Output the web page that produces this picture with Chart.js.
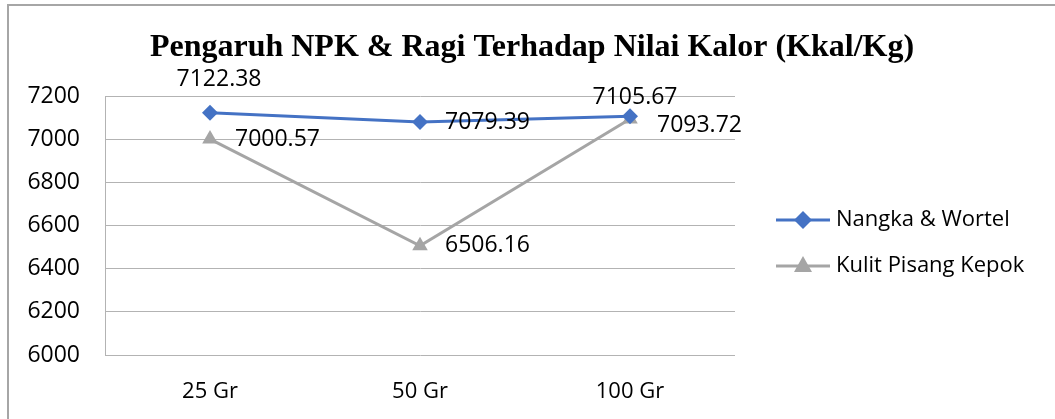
<!DOCTYPE html>
<html>
<head>
<meta charset="utf-8">
<script src="https://cdn.jsdelivr.net/npm/chart.js@4.4.0/dist/chart.umd.min.js"></script>
<style>
  html, body { margin: 0; padding: 0; background: #fff; }
</style>
</head>
<body>
<canvas id="chart" width="1055" height="419"></canvas>
<script>
const categories = ['25 Gr', '50 Gr', '100 Gr'];
const nangkaWortel = [7122.38, 7079.39, 7105.67];
const kulitPisang = [7000.57, 6506.16, 7093.72];
const yTicks = [6000, 6200, 6400, 6600, 6800, 7000, 7200];
const seriesNames = ['Nangka & Wortel', 'Kulit Pisang Kepok'];

// label offsets from each point [dx, dy, align]
const labelPlace = [
  [[9, -33, 'center'], [25, 0, 'left'], [5, -19, 'center']],
  [[25, 0, 'left'], [25, 0, 'left'], [27, 7, 'left']]
];

const BLUE = '#4472C4';
const GRAY = '#A5A5A5';
const FONT = '"Open Sans", sans-serif';

const extras = {
  id: 'extras',
  beforeDraw(chart) {
    const c = chart.ctx;
    c.save();
    c.fillStyle = '#fff';
    c.fillRect(0, 0, chart.width, chart.height);
    c.strokeStyle = '#A6A6A6';
    c.lineWidth = 2;
    c.beginPath();
    c.moveTo(8, chart.height);
    c.lineTo(8, 5);
    c.lineTo(chart.width, 5);
    c.stroke();
    c.restore();
  },
  afterDatasetsDraw(chart) {
    const c = chart.ctx;
    c.save();
    c.font = '23px ' + FONT;
    c.fillStyle = '#000';
    c.textBaseline = 'middle';
    chart.data.datasets.forEach((ds, i) => {
      chart.getDatasetMeta(i).data.forEach((pt, j) => {
        const p = labelPlace[i][j];
        c.textAlign = p[2];
        c.fillText(ds.data[j].toFixed(2), pt.x + p[0], pt.y + p[1]);
      });
    });
    c.restore();
  },
  afterDraw(chart) {
    const c = chart.ctx;
    c.save();
    // title
    c.font = 'bold 32px "Liberation Serif", serif';
    c.fillStyle = '#000';
    c.textAlign = 'center';
    c.textBaseline = 'alphabetic';
    c.fillText('Pengaruh NPK & Ragi Terhadap Nilai Kalor (Kkal/Kg)', 532, 56);

    // legend
    const rows = [220, 266];
    const cols = [BLUE, GRAY];
    c.font = '22px ' + FONT;
    c.textAlign = 'left';
    c.textBaseline = 'middle';
    rows.forEach((y, i) => {
      c.strokeStyle = cols[i];
      c.lineWidth = 3;
      c.beginPath();
      c.moveTo(776, y);
      c.lineTo(830, y);
      c.stroke();
      c.fillStyle = cols[i];
      c.beginPath();
      if (i === 0) {
        c.moveTo(803, y - 9);
        c.lineTo(812, y);
        c.lineTo(803, y + 9);
        c.lineTo(794, y);
      } else {
        c.moveTo(803, y - 10);
        c.lineTo(812, y + 6);
        c.lineTo(794, y + 6);
      }
      c.closePath();
      c.fill();
      c.fillStyle = '#000';
      c.fillText(seriesNames[i], 836, y);
    });
    c.restore();
  }
};

new Chart(document.getElementById('chart'), {
  type: 'line',
  data: {
    labels: categories,
    datasets: [{
      label: seriesNames[0],
      data: nangkaWortel,
      borderColor: BLUE,
      backgroundColor: BLUE,
      borderWidth: 3,
      pointStyle: 'rectRot',
      pointRadius: 8,
      pointBorderWidth: 0,
      tension: 0
    }, {
      label: seriesNames[1],
      data: kulitPisang,
      borderColor: GRAY,
      backgroundColor: GRAY,
      borderWidth: 3,
      pointStyle: 'triangle',
      pointRadius: 9,
      pointBorderWidth: 0,
      tension: 0
    }]
  },
  options: {
    responsive: false,
    animation: false,
    layout: {
      padding: { left: 0, top: 96, right: 320, bottom: 0 }
    },
    plugins: {
      legend: { display: false },
      title: { display: false },
      tooltip: { enabled: false }
    },
    scales: {
      x: {
        offset: true,
        grid: { display: false, drawTicks: false },
        border: { display: false },
        ticks: {
          color: '#000',
          font: { family: FONT, size: 22 },
          padding: 24
        },
        afterFit: (s) => { s.height = 64; }
      },
      y: {
        min: 6000,
        max: 7200,
        afterBuildTicks: (s) => { s.ticks = yTicks.map(v => ({ value: v })); },
        grid: { color: '#B3B3B3', lineWidth: 1, drawTicks: false },
        border: { display: true, color: '#B3B3B3', width: 1 },
        ticks: {
          color: '#000',
          font: { family: FONT, size: 23 },
          padding: 25,
          callback: (v) => String(v)
        },
        afterFit: (s) => { s.width = 105; }
      }
    }
  },
  plugins: [extras]
});
</script>
</body>
</html>
